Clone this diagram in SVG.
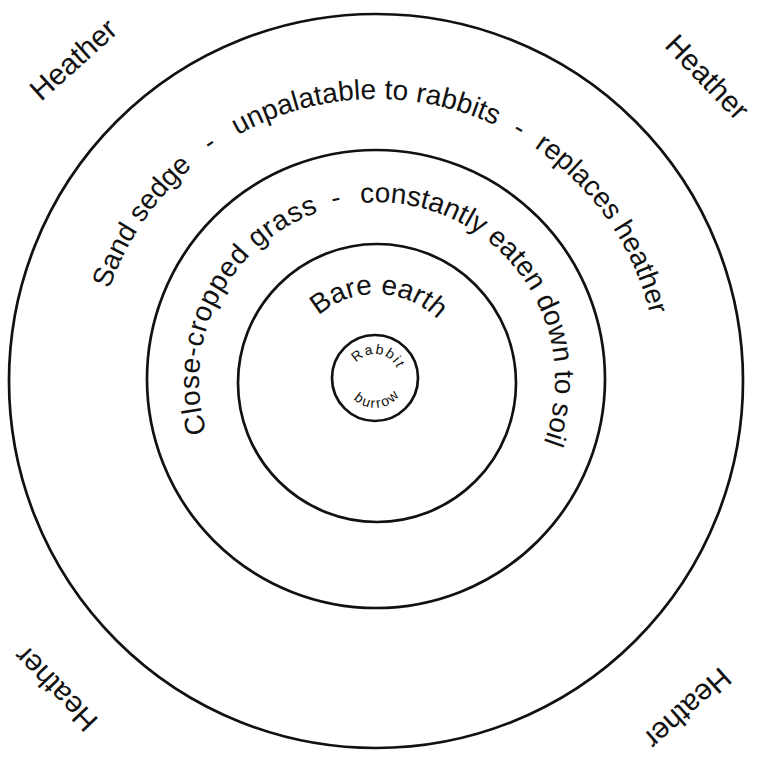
<svg xmlns="http://www.w3.org/2000/svg" xmlns:xlink="http://www.w3.org/1999/xlink" width="757" height="758" viewBox="0 0 757 758">
<style>
.ring{fill:none;stroke:#111;stroke-width:2.7}
.lbl{font-family:"Liberation Sans",Arial,Helvetica,sans-serif;font-size:28px;fill:#111}
.hth{font-family:"Liberation Sans",Arial,Helvetica,sans-serif;font-size:29.5px;fill:#111}
.sm{font-family:"Liberation Sans",Arial,Helvetica,sans-serif;font-size:14px;fill:#111}
</style>
<defs>
<path id="pSedge" d="M 176.6 580.4 A 282 282 0 1 1 575.4 580.4"/>
<path id="pGrass" d="M 251.5 506.5 A 178 178 0 1 1 502.5 506.5"/>
<path id="pBare" d="M 314.5 442.5 A 87 87 0 1 1 437.5 442.5"/>
<path id="pRabbit" d="M 358 395 A 24 24 0 1 1 392 395"/>
<path id="pBurrow" d="M 345 378 A 30 30 0 0 0 405 378"/>
</defs>
<rect width="757" height="758" fill="#fff"/>
<g id="heather-zone">
<circle class="ring" cx="376" cy="381" r="367"/>
<text class="hth" text-anchor="middle" transform="translate(80,67) rotate(-42)">Heather</text>
<text class="hth" text-anchor="middle" transform="translate(700,84) rotate(46)">Heather</text>
<text class="hth" text-anchor="middle" transform="translate(63,682) rotate(226)">Heather</text>
<text class="hth" text-anchor="middle" transform="translate(681,701) rotate(138)">Heather</text>
</g>
<g id="sand-sedge-zone">
<circle class="ring" cx="376" cy="379" r="229"/>
<text class="lbl" text-anchor="middle"><textPath href="#pSedge" xlink:href="#pSedge" startOffset="389.8">Sand sedge</textPath></text>
<text class="lbl" text-anchor="middle"><textPath href="#pSedge" xlink:href="#pSedge" startOffset="492.2">-</textPath></text>
<text class="lbl" text-anchor="middle"><textPath href="#pSedge" xlink:href="#pSedge" startOffset="653.6">unpalatable to rabbits</textPath></text>
<text class="lbl" text-anchor="middle"><textPath href="#pSedge" xlink:href="#pSedge" startOffset="809.7">-</textPath></text>
<text class="lbl" text-anchor="middle"><textPath href="#pSedge" xlink:href="#pSedge" startOffset="936">replaces heather</textPath></text>
</g>
<g id="grass-zone">
<circle class="ring" cx="377" cy="383" r="139"/>
<text class="lbl" text-anchor="middle" letter-spacing="0.8"><textPath href="#pGrass" xlink:href="#pGrass" startOffset="224">Close-cropped grass</textPath></text>
<text class="lbl" text-anchor="middle"><textPath href="#pGrass" xlink:href="#pGrass" startOffset="380">-</textPath></text>
<text class="lbl" text-anchor="middle"><textPath href="#pGrass" xlink:href="#pGrass" startOffset="583">constantly eaten down to soil</textPath></text>
</g>
<g id="bare-earth-zone">
<circle class="ring" cx="375" cy="378" r="43"/>
<text class="lbl" text-anchor="middle"><textPath href="#pBare" xlink:href="#pBare" startOffset="207.6">Bare earth</textPath></text>
</g>
<g id="rabbit-burrow">
<text class="sm" text-anchor="middle" letter-spacing="1.6"><textPath href="#pRabbit" xlink:href="#pRabbit" startOffset="60">Rabbit</textPath></text>
<text class="sm" text-anchor="middle" letter-spacing="1.8"><textPath href="#pBurrow" xlink:href="#pBurrow" startOffset="50">burrow</textPath></text>
</g>
</svg>
